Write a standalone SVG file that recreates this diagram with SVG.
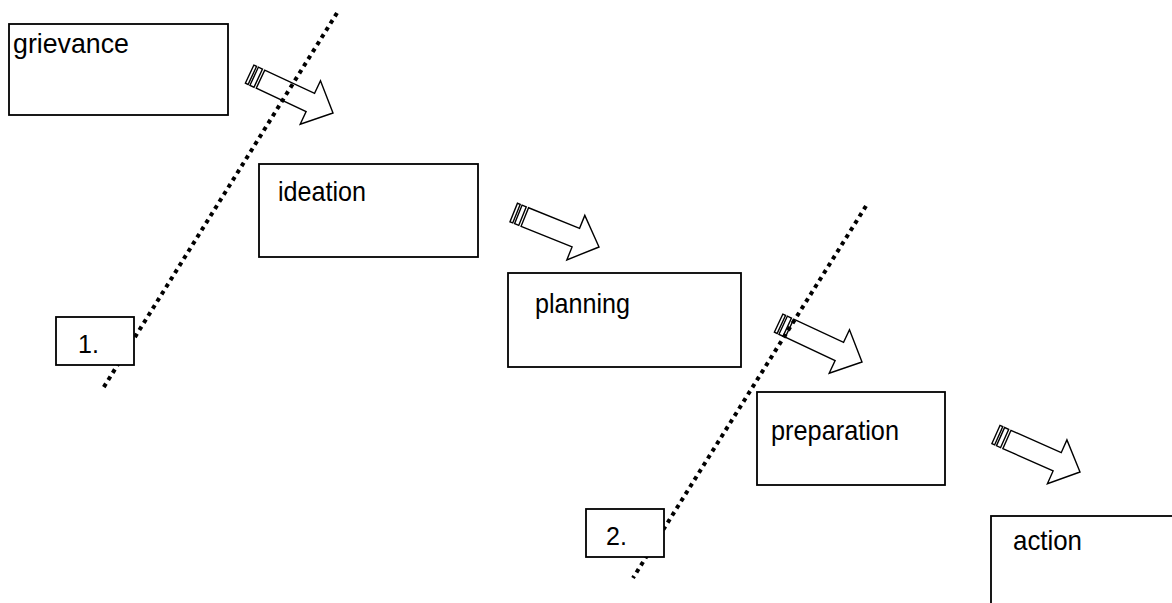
<svg xmlns="http://www.w3.org/2000/svg" width="1172" height="603" viewBox="0 0 1172 603">
<style>
.box{fill:#fff;stroke:#000;stroke-width:1.8}
.lbl{font-family:"Liberation Sans",Arial,sans-serif;font-size:28px;fill:#000}
.num{font-family:"Liberation Sans",Arial,sans-serif;font-size:25px;fill:#000}
.arr{fill:#fff;stroke:#000;stroke-width:1.4;stroke-linejoin:miter}
.dot{fill:none;stroke:#000;stroke-width:4;stroke-dasharray:4 4.4}
</style>
<defs>
<g id="striped">
<path class="arr" d="M0,0 L-25,-24 L-25,-10 L-80,-10 L-80,10 L-25,10 L-25,24 Z"/>
<rect class="arr" x="-92" y="-10" width="3" height="20"/>
<rect class="arr" x="-87" y="-10" width="4.5" height="20"/>
</g>
</defs>
<rect width="1172" height="603" fill="#fff"/>
<g id="node-grievance"><rect class="box" x="9" y="24" width="219" height="91"/><text class="lbl" x="13" y="53" textLength="116" lengthAdjust="spacingAndGlyphs">grievance</text></g>
<g id="node-ideation"><rect class="box" x="259" y="164" width="219" height="93"/><text class="lbl" x="278" y="201" textLength="88" lengthAdjust="spacingAndGlyphs">ideation</text></g>
<g id="node-planning"><rect class="box" x="508" y="273" width="233" height="94"/><text class="lbl" x="535" y="313" textLength="95" lengthAdjust="spacingAndGlyphs">planning</text></g>
<g id="node-preparation"><rect class="box" x="757" y="392" width="188" height="93"/><text class="lbl" x="771" y="440" textLength="128" lengthAdjust="spacingAndGlyphs">preparation</text></g>
<g id="node-action"><rect class="box" x="991" y="516" width="200" height="100"/><text class="lbl" x="1013" y="550" textLength="69" lengthAdjust="spacingAndGlyphs">action</text></g>
<g id="connectors">
<use href="#striped" transform="translate(333,113) rotate(25)"/>
<use href="#striped" transform="translate(599,247) rotate(22)"/>
<use href="#striped" transform="translate(862,362) rotate(25)"/>
<use href="#striped" transform="translate(1080,472) rotate(24)"/>
<line class="dot" x1="337" y1="13" x2="102" y2="390"/>
<line class="dot" x1="866" y1="206" x2="633" y2="578"/>
</g>
<g id="node-marker1"><rect class="box" x="56" y="317" width="78" height="48"/><text class="num" x="78" y="353">1.</text></g>
<g id="node-marker2"><rect class="box" x="586" y="509" width="78" height="48"/><text class="num" x="606" y="545">2.</text></g>
</svg>
